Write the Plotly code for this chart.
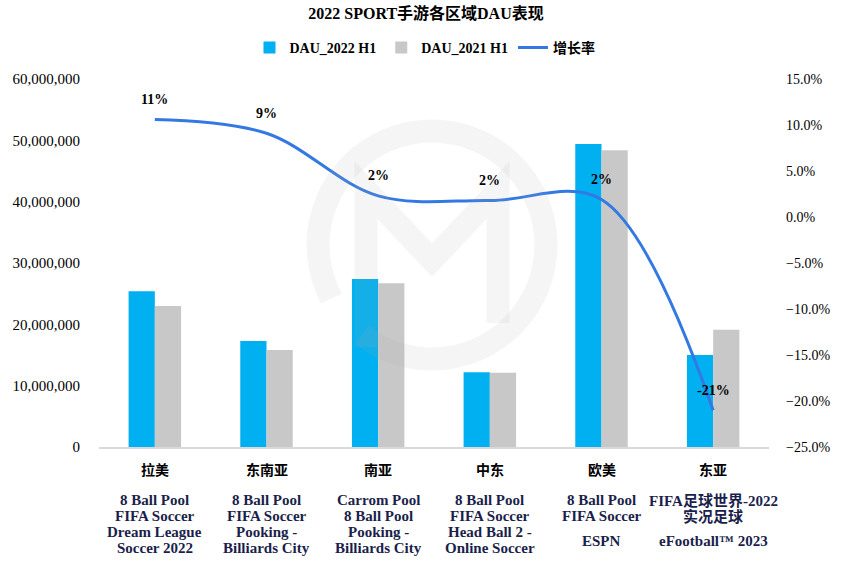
import math
import plotly.graph_objects as go

# ---------------- data ----------------
regions = ["拉美", "东南亚", "南亚", "中东", "欧美", "东亚"]
dau_2022 = [25400000, 17300000, 27400000, 12200000, 49400000, 15000000]
dau_2021 = [23000000, 15800000, 26700000, 12100000, 48400000, 19100000]
growth = [0.106, 0.091, 0.023, 0.018, 0.019, -0.21]
games = [
    ["8 Ball Pool", "FIFA Soccer", "Dream League", "Soccer 2022"],
    ["8 Ball Pool", "FIFA Soccer", "Pooking -", "Billiards City"],
    ["Carrom Pool", "8 Ball Pool", "Pooking -", "Billiards City"],
    ["8 Ball Pool", "FIFA Soccer", "Head Ball 2 -", "Online Soccer"],
    ["8 Ball Pool", "FIFA Soccer", "ESPN"],
    ["FIFA足球世界-2022", "实况足球", "eFootball™ 2023"],
]
left_ticks = [0, 10000000, 20000000, 30000000, 40000000, 50000000, 60000000]
right_ticks = [-0.25, -0.2, -0.15, -0.1, -0.05, 0, 0.05, 0.1, 0.15]

SERIF = "Liberation Serif, Times New Roman, Noto Sans CJK SC, serif"

W, H = 853, 577
PL, PR, PT, PB = 99, 769, 79, 447          # plot area in pixels
L, R, T, B = PL, W - PR, PT, H - PB
pw, ph = PR - PL, PB - PT


def px(xpix):
    return (xpix - PL) / pw


def py(ypix):
    return (PB - ypix) / ph


fig = go.Figure()
fig.add_trace(go.Bar(x=regions, y=dau_2022, name="<b>DAU_2022 H1</b>",
                     marker=dict(color="#00B0F0", line=dict(width=0))))
fig.add_trace(go.Bar(x=regions, y=dau_2021, name="<b>DAU_2021 H1</b>",
                     marker=dict(color="#C8C8C8", line=dict(width=0))))
fig.add_trace(go.Scatter(x=regions, y=growth, name="<b>增长率</b>", yaxis="y2",
                         mode="lines", line=dict(color="#3479E3", width=3, shape="spline", smoothing=1.0)))

annotations = []
for reg, g in zip(regions, growth):
    annotations.append(dict(x=reg, xref="x", y=g, yref="y2", yshift=20, showarrow=False,
                            text="<b>%d%%</b>" % round(g * 100), yanchor="middle",
                            font=dict(family=SERIF, size=14, color="#000000")))

for reg, gl in zip(regions, games):
    annotations.append(dict(x=reg, xref="x", y=py(470), yref="paper", text="<b>%s</b>" % reg,
                            showarrow=False, yanchor="middle",
                            font=dict(family=SERIF, size=14, color="#000000")))
    ys = [500, 516, 532, 548] if len(gl) == 4 else [500, 516, 541]
    for j, g in enumerate(gl):
        annotations.append(dict(x=reg, xref="x", y=py(ys[j]), yref="paper", text="<b>%s</b>" % g,
                                showarrow=False, yanchor="middle",
                                font=dict(family=SERIF, size=15, color="#1B1F4B")))

# watermark (ring + M)
cx, cy = px(432), py(245)
r = 114
pts = []
a0, a1 = 208, -128
n = 60
for k in range(n + 1):
    a = math.radians(a0 + (a1 - a0) * k / n)
    pts.append((r * math.cos(a), r * math.sin(a)))
ring = "M " + " L ".join("%.1f,%.1f" % p for p in pts)
mpath = "M -66,-102 L -66,55 L 0,-15 L 66,55 L 66,-78"
wm = dict(type="path", xref="paper", yref="paper", xsizemode="pixel", ysizemode="pixel",
          xanchor=cx, yanchor=cy, layer="above",
          line=dict(color="rgba(175,175,175,0.12)", width=23))
shapes = [dict(wm, path=ring), dict(wm, path=mpath)]

fig.update_layout(
    width=W, height=H,
    margin=dict(l=L, r=R, t=T, b=B, pad=0),
    paper_bgcolor="white", plot_bgcolor="white",
    barmode="group", bargap=0.53, bargroupgap=0,
    title=dict(text="<b>2022 SPORT手游各区域DAU表现</b>", x=px(426), xref="paper", xanchor="center",
               y=1 - 13 / H, yanchor="middle", yref="container",
               font=dict(family=SERIF, size=16, color="#000000")),
    legend=dict(orientation="h", x=px(425), xanchor="center", y=py(48), yanchor="middle",
                font=dict(family=SERIF, size=14, color="#000000"),
                traceorder="normal", itemwidth=30),
    xaxis=dict(showline=True, linecolor="#D9D9D9", linewidth=1.5, showticklabels=False,
               ticks="", showgrid=False, zeroline=False, range=[-0.5, 5.5]),
    yaxis=dict(range=[0, 60000000], tickvals=left_ticks, tickformat=",", showgrid=False,
               zeroline=False, showline=False, ticklabelstandoff=18,
               tickprefix="<b>", ticksuffix="</b>",
               tickfont=dict(family=SERIF, size=15, color="#000000")),
    yaxis2=dict(range=[-0.25, 0.15], tickvals=right_ticks, tickformat=".1%", overlaying="y",
                side="right", showgrid=False, zeroline=False, showline=False, ticklabelstandoff=16,
                tickprefix="<b>", ticksuffix="</b>",
                tickfont=dict(family=SERIF, size=14, color="#000000")),
    annotations=annotations,
    shapes=shapes,
    hovermode=False,
    showlegend=True,
)

fig.write_html("out.html",
               config={"displayModeBar": False, "staticPlot": True},
               post_script="document.body.style.margin='0px';document.body.style.overflow='hidden';")
